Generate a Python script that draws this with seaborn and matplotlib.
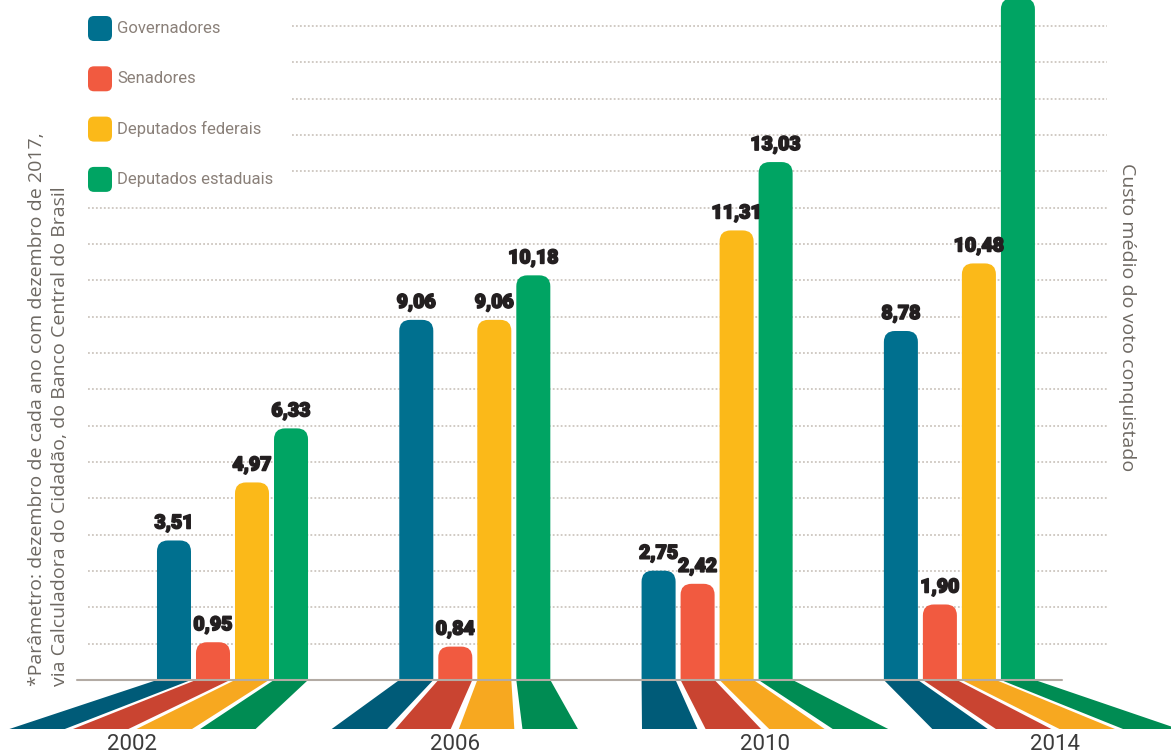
import matplotlib
matplotlib.use("Agg")
import matplotlib.pyplot as plt
from matplotlib.patches import FancyBboxPatch, Polygon, Rectangle
import matplotlib.patheffects as pe
import seaborn as sns
import numpy as np
import pandas as pd

# dados (R$ por voto)
anos = ["2002", "2006", "2010", "2014"]
cargos = ["Governadores", "Senadores", "Deputados federais", "Deputados estaduais"]
governadores = [3.51, 9.06, 2.75, 8.78]
senadores = [0.95, 0.84, 2.42, 1.90]
dep_federais = [4.97, 9.06, 11.31, 10.48]
dep_estaduais = [6.33, 10.18, 13.03, 17.15]  # 2014 passa do topo, sem rótulo

rotulos_valores = {v: f"{v:.2f}".replace(".", ",") for v in
                   governadores + senadores + dep_federais + dep_estaduais}

cores = ["#00708f", "#f15a40", "#fbb919", "#00a463"]
cores_chao = ["#005b78", "#c94431", "#f7a820", "#008c53"]

nota_1 = "*Parâmetro: dezembro de cada ano com dezembro de 2017,"
nota_2 = "via Calculadora do Cidadão, do Banco Central do Brasil"
titulo_eixo = "Custo médio do voto conquistado"

# layout (pixels da imagem de referência)
W, H = 1171, 756
X0_PX, PX_X = 232.5, 242.3      # centro do 1o grupo / distância entre grupos
BASE_PX, PX_Y = 680, 39.75      # linha de base / pixels por unidade
desloc_chao = [-100, -20, 48, 96]  # deslocamento da perspectiva em px
abertura = 1.63
prof_chao = 49


def dx(px):
    return (px - X0_PX) / PX_X


def dy(py):
    return (BASE_PX - py) / PX_Y


sns.set_style("white")
plt.rcParams["font.family"] = ["Roboto", "DejaVu Sans"]

df = pd.DataFrame({"ano": anos, "Governadores": governadores,
                   "Senadores": senadores,
                   "Deputados federais": dep_federais,
                   "Deputados estaduais": dep_estaduais})
df = df.melt(id_vars="ano", var_name="cargo", value_name="custo")

fig = plt.figure(figsize=(W / 100, H / 100), dpi=100)
ax = fig.add_axes([0, 0, 1, 1])

largura_grupo = 0.644
sns.barplot(data=df, x="ano", y="custo", hue="cargo", hue_order=cargos,
            palette=cores, saturation=1, width=largura_grupo, gap=0.128,
            errorbar=None, legend=False, ax=ax)

ax.set_xlim(dx(0), dx(W))
ax.set_ylim(dy(H), dy(0))
ax.axis("off")

passo = largura_grupo / len(cargos)
r_px = 11
rx, ry = r_px / PX_X, r_px / PX_Y
clip = Rectangle((dx(0), 0), 20, 40, transform=ax.transData)

for p in list(ax.patches):
    x, w, h = p.get_x(), p.get_width(), p.get_height()
    centro = x + w / 2
    g = int(round(centro))
    k = int(round((centro - g) / passo + 1.5))
    p.remove()

    barra = FancyBboxPatch((x, -ry), w, h + ry,
                           boxstyle=f"round,pad=0,rounding_size={rx}",
                           mutation_aspect=ry / rx, fc=cores[k], ec="none",
                           zorder=3)
    ax.add_patch(barra)
    barra.set_clip_path(clip)

    # "chão" em perspectiva
    base = g + desloc_chao[g] / PX_X
    xb0 = base + (x - g) * abertura
    xb1 = base + (x + w - g) * abertura
    fundo = -prof_chao / PX_Y
    ax.add_patch(Polygon([(x, 0), (x + w, 0), (xb1, fundo), (xb0, fundo)],
                         closed=True, fc=cores_chao[k], ec="none", zorder=2))

    if h + 1.0 < dy(0):
        ax.text(centro, h + 8 / PX_Y, rotulos_valores[h], ha="center",
                va="bottom", fontsize=14, fontweight="black",
                color="#231f20", zorder=6,
                path_effects=[pe.withStroke(linewidth=1.2, foreground="#231f20")])

# anos embaixo do chão
for g, ano in enumerate(anos):
    ax.text(g + desloc_chao[g] / PX_X, dy(745), ano, ha="center",
            va="center", fontsize=16, color="#3b3b3b")

# linhas de grade pontilhadas
for i in range(1, 19):
    py = BASE_PX - i * 36.33
    x_ini = dx(292) if py < 190 else dx(88)
    ax.hlines(dy(py), x_ini, dx(1107), colors="#cdc6bf",
              linestyles=(0, (1, 1.2)), lw=1.3, zorder=1)

ax.plot([dx(77), dx(1062)], [0, 0], color="#b3aba4", lw=1.5, zorder=5)

# legenda
for i, (cargo, cor) in enumerate(zip(cargos, cores)):
    yc = 28.5 + 50.3 * i
    ax.add_patch(FancyBboxPatch((dx(88), dy(yc + 12.5)), 24 / PX_X, 25 / PX_Y,
                                boxstyle=f"round,pad=0,rounding_size={6 / PX_X}",
                                mutation_aspect=PX_X / PX_Y, fc=cor, ec="none",
                                zorder=4))
    ax.text(dx(117), dy(yc), cargo, ha="left", va="center", fontsize=12,
            color="#8a8079")

fonte_nota = ["Open Sans", "DejaVu Sans"]
fig.text(37 / W, 1 - 686 / H, nota_1, rotation=90, ha="center", va="bottom",
         fontsize=14, color="#6d6862", family=fonte_nota)
fig.text(60 / W, 1 - 686 / H, nota_2, rotation=90, ha="center", va="bottom",
         fontsize=14, color="#6d6862", family=fonte_nota)
fig.text(1127 / W, 1 - 163 / H, titulo_eixo, rotation=270, ha="center",
         va="top", fontsize=14, color="#6d6862", family=fonte_nota)

fig.savefig("out.png", dpi=100)
